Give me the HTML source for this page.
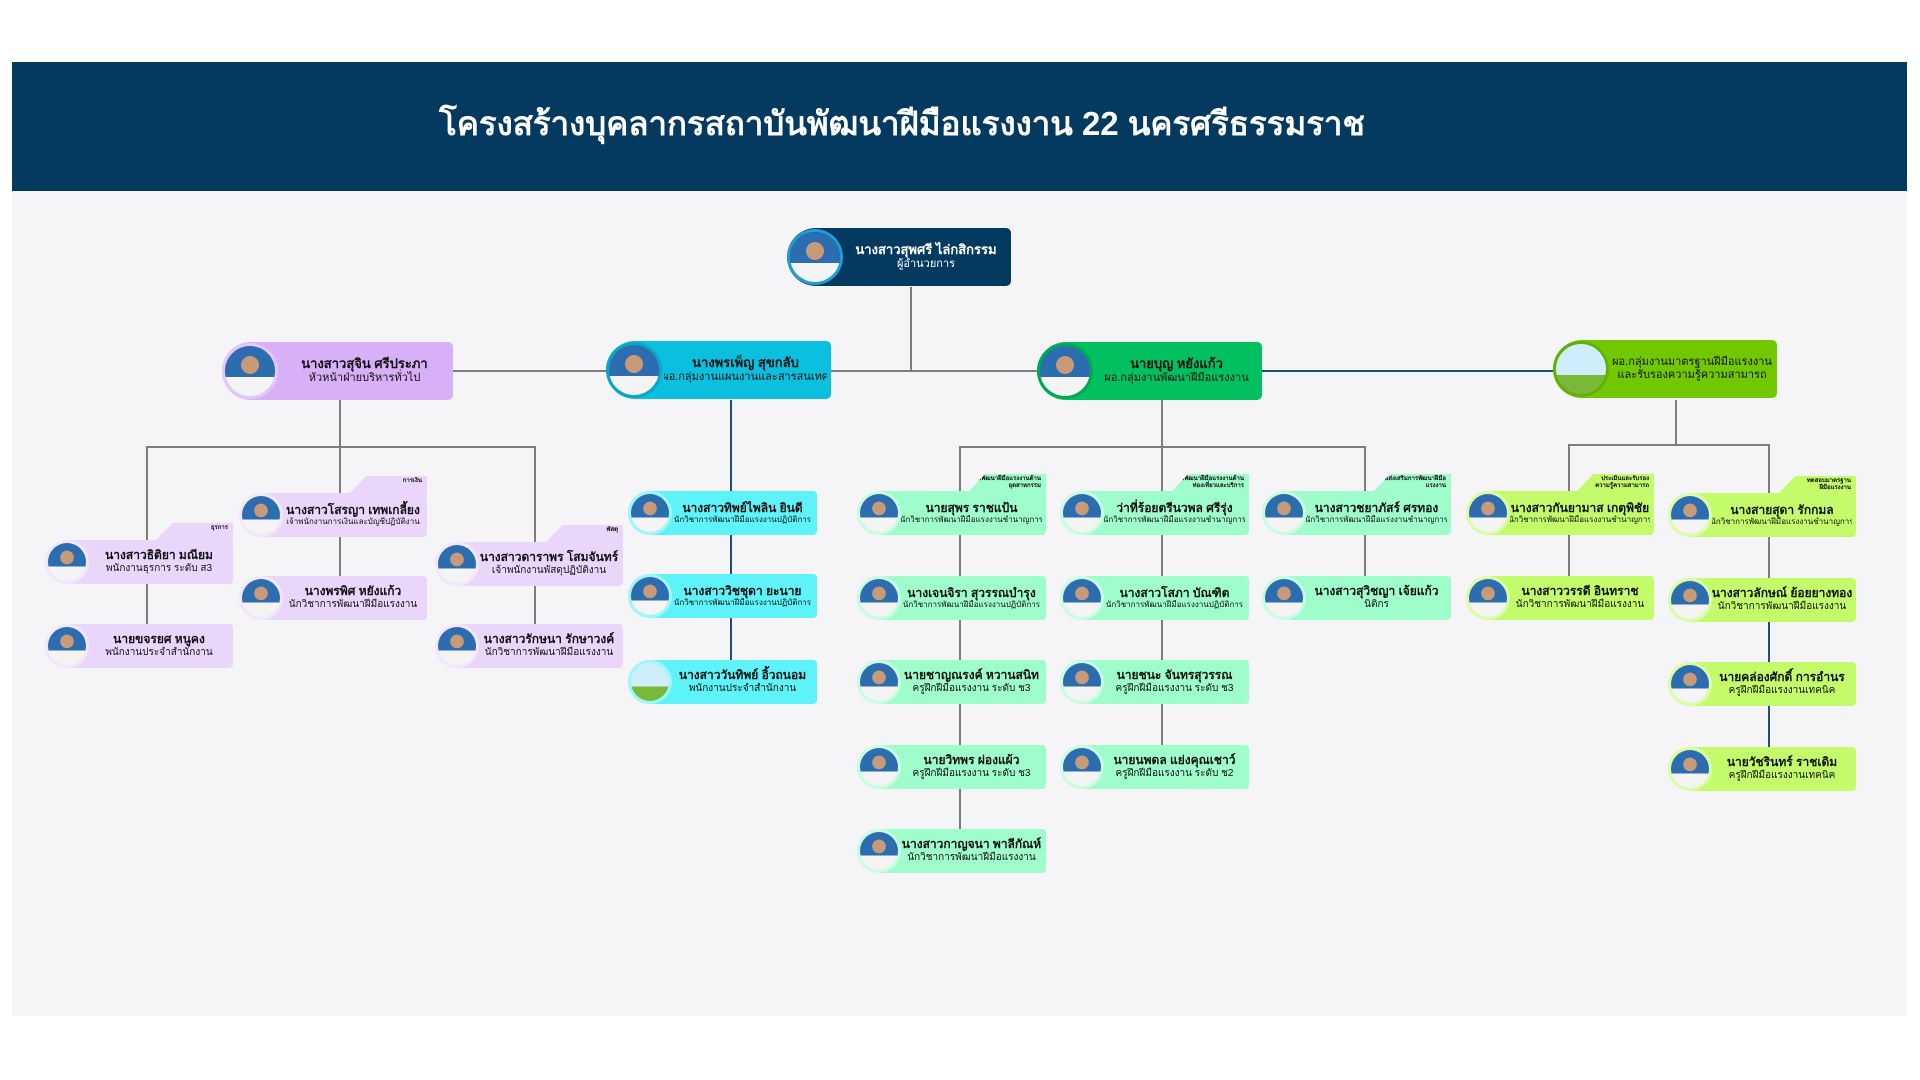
<!DOCTYPE html>
<html><head><meta charset="utf-8"><style>
*{margin:0;padding:0;box-sizing:border-box}
body{width:1920px;height:1080px;background:#fff;position:relative;overflow:hidden;font-family:"Liberation Sans","DejaVu Sans",sans-serif;color:#111}
.panel{position:absolute;left:12px;top:191px;width:1895px;height:825px;background:#f5f4f7}
.head{position:absolute;left:12px;top:62px;width:1895px;height:129px;background:#053a60}
.title{position:absolute;left:380px;top:102px;width:1044px;text-align:center;color:#fff;font-weight:bold;font-size:33px;line-height:44px}
.l{position:absolute;background:#7d7d7d}
.nv{background:#1f4e78}
.n{position:absolute;display:flex;align-items:center}
.n .ph{position:absolute;left:3px;border-radius:50%;background:radial-gradient(circle at 50% 38%,#c99a78 0 22%,transparent 23%),linear-gradient(#2c6db0 62%,#f4f4f4 62%)}
.n .t{position:absolute;top:0;bottom:0;right:4px;display:flex;flex-direction:column;justify-content:center;align-items:center;text-align:center;line-height:1.15;white-space:nowrap;overflow:hidden}
.n b{font-size:12px}
.n span{font-size:10px}
.s{height:44px;border-radius:22px 4px 4px 22px}
.s .ph{width:38px;height:38px;top:3px}
.s .t{left:44px}
.big{height:58px;border-radius:29px 5px 5px 29px}
.big .ph{width:50px;height:50px;top:4px}
.big .t{left:58px}
.big b{font-size:13px}.big span{font-size:11px}
.tab{position:absolute;right:0;top:-17px;width:78px;height:18px;clip-path:polygon(22% 0,100% 0,100% 100%,0 100%);font-size:6px;line-height:7px;text-align:right;padding:2px 5px 0 0;font-weight:bold}
.P{background:#ebd6fb}.P .ph{box-shadow:0 0 0 3px #f3e7fd}
.C{background:#5df3f8}.C .ph{box-shadow:0 0 0 3px #9ef8fb}
.G{background:#9ffccb}.G .ph{box-shadow:0 0 0 3px #c8fde2}
.Y{background:#c3fb6b}.Y .ph{box-shadow:0 0 0 3px #dcfda8}
.land{background:linear-gradient(#cfeefc 62%,#7ab83a 62%)!important}
</style></head><body>
<div class="head"></div>
<div class="panel"></div>
<div class="title">โครงสร้างบุคลากรสถาบันพัฒนาฝีมือแรงงาน 22 นครศรีธรรมราช</div>

<div class="l" style="left:910px;top:287px;width:2px;height:85px"></div>
<div class="l" style="left:453px;top:370px;width:1100px;height:2px"></div>
<div class="l nv" style="left:1262px;top:370px;width:291px;height:2px"></div>
<div class="l" style="left:339px;top:400px;width:2px;height:47px"></div>
<div class="l" style="left:147px;top:446px;width:389px;height:2px"></div>
<div class="l" style="left:146px;top:446px;width:2px;height:180px"></div>
<div class="l" style="left:339px;top:446px;width:2px;height:132px"></div>
<div class="l" style="left:534px;top:446px;width:2px;height:180px"></div>
<div class="l nv" style="left:730px;top:400px;width:2px;height:262px"></div>
<div class="l" style="left:1161px;top:400px;width:2px;height:47px"></div>
<div class="l" style="left:960px;top:446px;width:406px;height:2px"></div>
<div class="l" style="left:959px;top:446px;width:2px;height:385px"></div>
<div class="l" style="left:1161px;top:446px;width:2px;height:301px"></div>
<div class="l" style="left:1364px;top:446px;width:2px;height:132px"></div>
<div class="l" style="left:1675px;top:400px;width:2px;height:45px"></div>
<div class="l" style="left:1569px;top:444px;width:201px;height:2px"></div>
<div class="l" style="left:1568px;top:444px;width:2px;height:134px"></div>
<div class="l" style="left:1768px;top:444px;width:2px;height:178px"></div>
<div class="l nv" style="left:1768px;top:620px;width:2px;height:128px"></div>

<div class="n big" style="left:787px;top:228px;width:224px;background:#053a60;color:#fff"><i class="ph" style="box-shadow:0 0 0 3px #1d9fd3"></i><div class="t"><b>นางสาวสุพศรี ไล่กสิกรรม</b><span>ผู้อำนวยการ</span></div></div>
<div class="n big" style="left:222px;top:342px;width:231px;background:#d8b0f8"><i class="ph" style="box-shadow:0 0 0 3px #e4c8fb"></i><div class="t"><b>นางสาวสุจิน ศรีประภา</b><span>หัวหน้าฝ่ายบริหารทั่วไป</span></div></div>
<div class="n big" style="left:606px;top:341px;width:225px;background:#0bbfdf"><i class="ph" style="box-shadow:0 0 0 3px #0aa6c8"></i><div class="t"><b>นางพรเพ็ญ สุขกลับ</b><span>ผอ.กลุ่มงานแผนงานและสารสนเทศ</span></div></div>
<div class="n big" style="left:1037px;top:342px;width:225px;background:#00c060"><i class="ph" style="box-shadow:0 0 0 3px #00a852"></i><div class="t"><b>นายบุญ หยังแก้ว</b><span>ผอ.กลุ่มงานพัฒนาฝีมือแรงงาน</span></div></div>
<div class="n big" style="left:1553px;top:340px;width:224px;background:#72c800"><i class="ph land" style="box-shadow:0 0 0 3px #62b000"></i><div class="t"><span>ผอ.กลุ่มงานมาตรฐานฝีมือแรงงาน</span><span>และรับรองความรู้ความสามารถ</span></div></div>

<div class="n s P" style="left:45px;top:540px;width:188px"><div class="tab P">ธุรการ</div><i class="ph"></i><div class="t"><b>นางสาวธิติยา มณียม</b><span>พนักงานธุรการ ระดับ ส3</span></div></div>
<div class="n s P" style="left:45px;top:624px;width:188px"><i class="ph"></i><div class="t"><b>นายขจรยศ หนูคง</b><span>พนักงานประจำสำนักงาน</span></div></div>
<div class="n s P" style="left:239px;top:493px;width:188px"><div class="tab P">การเงิน</div><i class="ph"></i><div class="t"><b>นางสาวโสรญา เทพเกลี้ยง</b><span style="font-size:8px">เจ้าพนักงานการเงินและบัญชีปฏิบัติงาน</span></div></div>
<div class="n s P" style="left:239px;top:576px;width:188px"><i class="ph"></i><div class="t"><b>นางพรพิศ หยังแก้ว</b><span>นักวิชาการพัฒนาฝีมือแรงงาน</span></div></div>
<div class="n s P" style="left:435px;top:542px;width:188px"><div class="tab P">พัสดุ</div><i class="ph"></i><div class="t"><b>นางสาวดาราพร โสมจันทร์</b><span>เจ้าพนักงานพัสดุปฏิบัติงาน</span></div></div>
<div class="n s P" style="left:435px;top:624px;width:188px"><i class="ph"></i><div class="t"><b>นางสาวรักษนา รักษาวงค์</b><span>นักวิชาการพัฒนาฝีมือแรงงาน</span></div></div>

<div class="n s C" style="left:628px;top:491px;width:189px"><i class="ph"></i><div class="t"><b>นางสาวทิพย์ไพลิน ยินดี</b><span style="font-size:8px">นักวิชาการพัฒนาฝีมือแรงงานปฏิบัติการ</span></div></div>
<div class="n s C" style="left:628px;top:574px;width:189px"><i class="ph"></i><div class="t"><b>นางสาววิชชุดา ยะนาย</b><span style="font-size:8px">นักวิชาการพัฒนาฝีมือแรงงานปฏิบัติการ</span></div></div>
<div class="n s C" style="left:628px;top:660px;width:189px"><i class="ph land"></i><div class="t"><b>นางสาววันทิพย์ อิ้วถนอม</b><span>พนักงานประจำสำนักงาน</span></div></div>

<div class="n s G" style="left:857px;top:491px;width:189px"><div class="tab G">ฝ่ายพัฒนาฝีมือแรงงานด้าน<br>อุตสาหกรรม</div><i class="ph"></i><div class="t"><b>นายสุพร ราชแป้น</b><span style="font-size:8px">นักวิชาการพัฒนาฝีมือแรงงานชำนาญการ</span></div></div>
<div class="n s G" style="left:857px;top:576px;width:189px"><i class="ph"></i><div class="t"><b>นางเจนจิรา สุวรรณบำรุง</b><span style="font-size:8px">นักวิชาการพัฒนาฝีมือแรงงานปฏิบัติการ</span></div></div>
<div class="n s G" style="left:857px;top:660px;width:189px"><i class="ph"></i><div class="t"><b>นายชาญณรงค์ หวานสนิท</b><span>ครูฝึกฝีมือแรงงาน ระดับ ช3</span></div></div>
<div class="n s G" style="left:857px;top:745px;width:189px"><i class="ph"></i><div class="t"><b>นายวิทพร ผ่องแผ้ว</b><span>ครูฝึกฝีมือแรงงาน ระดับ ช3</span></div></div>
<div class="n s G" style="left:857px;top:829px;width:189px"><i class="ph"></i><div class="t"><b>นางสาวกาญจนา พาลีกัณห์</b><span>นักวิชาการพัฒนาฝีมือแรงงาน</span></div></div>
<div class="n s G" style="left:1060px;top:491px;width:189px"><div class="tab G">ฝ่ายพัฒนาฝีมือแรงงานด้าน<br>ท่องเที่ยวและบริการ</div><i class="ph"></i><div class="t"><b>ว่าที่ร้อยตรีนวพล ศรีรุ่ง</b><span style="font-size:8px">นักวิชาการพัฒนาฝีมือแรงงานชำนาญการ</span></div></div>
<div class="n s G" style="left:1060px;top:576px;width:189px"><i class="ph"></i><div class="t"><b>นางสาวโสภา บัณฑิต</b><span style="font-size:8px">นักวิชาการพัฒนาฝีมือแรงงานปฏิบัติการ</span></div></div>
<div class="n s G" style="left:1060px;top:660px;width:189px"><i class="ph"></i><div class="t"><b>นายชนะ จันทรสุวรรณ</b><span>ครูฝึกฝีมือแรงงาน ระดับ ช3</span></div></div>
<div class="n s G" style="left:1060px;top:745px;width:189px"><i class="ph"></i><div class="t"><b>นายนพดล แย่งคุณเชาว์</b><span>ครูฝึกฝีมือแรงงาน ระดับ ช2</span></div></div>
<div class="n s G" style="left:1262px;top:491px;width:189px"><div class="tab G">ฝ่ายส่งเสริมการพัฒนาฝีมือแรงงาน</div><i class="ph"></i><div class="t"><b>นางสาวชยาภัสร์ ศรทอง</b><span style="font-size:8px">นักวิชาการพัฒนาฝีมือแรงงานชำนาญการ</span></div></div>
<div class="n s G" style="left:1262px;top:576px;width:189px"><i class="ph"></i><div class="t"><b>นางสาวสุวิชญา เจ้ยแก้ว</b><span>นิติกร</span></div></div>

<div class="n s Y" style="left:1466px;top:491px;width:188px"><div class="tab Y">ประเมินและรับรอง<br>ความรู้ความสามารถ</div><i class="ph"></i><div class="t"><b>นางสาวกันยามาส เกตุพิชัย</b><span style="font-size:8px">นักวิชาการพัฒนาฝีมือแรงงานชำนาญการ</span></div></div>
<div class="n s Y" style="left:1466px;top:576px;width:188px"><i class="ph"></i><div class="t"><b>นางสาววรรดี อินทราช</b><span>นักวิชาการพัฒนาฝีมือแรงงาน</span></div></div>
<div class="n s Y" style="left:1668px;top:493px;width:188px;height:44px"><div class="tab Y">ทดสอบมาตรฐาน<br>ฝีมือแรงงาน</div><i class="ph"></i><div class="t"><b>นางสายสุดา รักกมล</b><span style="font-size:8px">นักวิชาการพัฒนาฝีมือแรงงานชำนาญการ</span></div></div>
<div class="n s Y" style="left:1668px;top:578px;width:188px"><i class="ph"></i><div class="t"><b>นางสาวลักษณ์ ย้อยยางทอง</b><span>นักวิชาการพัฒนาฝีมือแรงงาน</span></div></div>
<div class="n s Y" style="left:1668px;top:662px;width:188px"><i class="ph"></i><div class="t"><b>นายคล่องศักดิ์ การอำนร</b><span>ครูฝึกฝีมือแรงงานเทคนิค</span></div></div>
<div class="n s Y" style="left:1668px;top:747px;width:188px"><i class="ph"></i><div class="t"><b>นายวัชรินทร์ ราชเดิม</b><span>ครูฝึกฝีมือแรงงานเทคนิค</span></div></div>
</body></html>
